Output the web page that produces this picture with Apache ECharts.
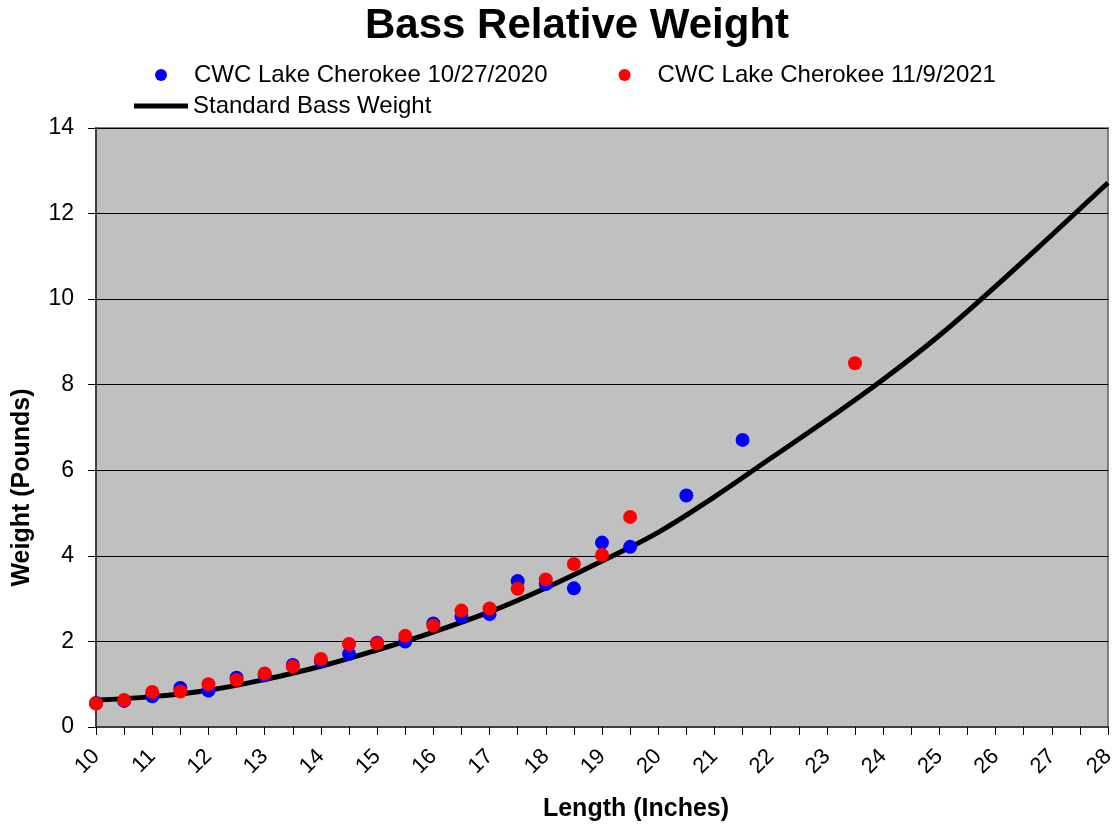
<!DOCTYPE html>
<html>
<head>
<meta charset="utf-8">
<script src="https://cdn.jsdelivr.net/npm/echarts@6/dist/echarts.min.js"></script>
<style>
html,body{margin:0;padding:0;background:#fff;}
#c{width:1116px;height:824px;}
</style>
</head>
<body>
<div id="c"></div>
<script>
// Lengths (inches) for the two survey samples
var lengths2020 = [10, 10.5, 11, 11.5, 12, 12.5, 13, 13.5, 14, 14.5, 15, 15.5, 16, 16.5, 17, 17.5, 18, 18.5, 19, 19.5, 20.5, 21.5];
var weights2020 = [0.56, 0.61, 0.72, 0.91, 0.85, 1.15, 1.21, 1.45, 1.54, 1.71, 1.97, 2.0, 2.42, 2.58, 2.64, 3.41, 3.34, 3.24, 4.31, 4.21, 5.41, 6.71];
var lengths2021 = [10, 10.5, 11, 11.5, 12, 12.5, 13, 13.5, 14, 14.5, 15, 15.5, 16, 16.5, 17, 17.5, 18, 18.5, 19, 19.5, 23.5];
var weights2021 = [0.55, 0.63, 0.82, 0.83, 1.0, 1.1, 1.25, 1.41, 1.59, 1.94, 1.95, 2.13, 2.37, 2.72, 2.77, 3.23, 3.45, 3.81, 4.02, 4.91, 8.50];
// Standard weight curve
var stdLengths = [10, 11, 12, 13, 14, 15, 16, 17, 18, 19, 20, 21, 22, 23, 24, 25, 26, 27, 28];
var stdWeights = [0.63, 0.71, 0.86, 1.11, 1.42, 1.80, 2.22, 2.69, 3.25, 3.88, 4.55, 5.38, 6.28, 7.18, 8.12, 9.15, 10.3, 11.5, 12.72];

var names = ['CWC Lake Cherokee 10/27/2020', 'CWC Lake Cherokee 11/9/2021', 'Standard Bass Weight'];

function zip(a, b) { return a.map(function (v, i) { return [v, b[i]]; }); }

var FONT = '"Liberation Sans", Arial, sans-serif';
var chart = echarts.init(document.getElementById('c'));
chart.setOption({
  animation: false,
  backgroundColor: '#ffffff',
  textStyle: { fontFamily: FONT },
  title: {
    text: 'Bass Relative Weight',
    left: 572,
    textAlign: 'center',
    top: 0,
    textStyle: { fontFamily: FONT, fontSize: 42, fontWeight: 'bold', color: '#000' }
  },
  legend: [
    {
      data: [names[0], names[1]],
      left: 155, top: 63,
      padding: 0,
      icon: 'circle',
      itemWidth: 12, itemHeight: 12,
      itemGap: 71,
      textStyle: { fontFamily: FONT, fontSize: 24, color: '#000', padding: [0, 0, 0, 22] }
    },
    {
      data: [{ name: names[2], icon: 'rect' }],
      left: 134, top: 94,
      padding: 0,
      itemWidth: 54, itemHeight: 5,
      textStyle: { fontFamily: FONT, fontSize: 24, color: '#000' }
    }
  ],
  grid: {
    left: 96, right: 8, top: 128, bottom: 97,
    outerBoundsMode: 'none',
    containLabel: false,
    show: true,
    backgroundColor: '#C0C0C0',
    borderColor: '#808080',
    borderWidth: 2
  },
  xAxis: {
    type: 'value',
    min: 10, max: 28, interval: 0.5,
    name: 'Length (Inches)',
    nameLocation: 'middle',
    nameGap: 70,
    nameTextStyle: { fontFamily: FONT, fontSize: 25, fontWeight: 'bold', color: '#000', padding: [0, 0, 0, 68] },
    axisLine: { show: true, onZero: false, lineStyle: { color: '#404040', width: 2 } },
    axisTick: { show: true, length: 8, lineStyle: { color: '#000', width: 1 } },
    splitLine: { show: false },
    axisLabel: {
      rotate: 45, margin: 26, color: '#000', fontFamily: FONT, fontSize: 22,
      formatter: function (v) { return (Math.abs(v - Math.round(v)) < 1e-6) ? String(Math.round(v)) : ''; }
    }
  },
  yAxis: {
    type: 'value',
    min: 0, max: 14, interval: 2,
    name: 'Weight (Pounds)',
    nameLocation: 'middle',
    nameGap: 61,
    nameTextStyle: { fontFamily: FONT, fontSize: 25, fontWeight: 'bold', color: '#000', padding: [0, 120, 0, 0] },
    axisLine: { show: true, lineStyle: { color: '#404040', width: 2 } },
    axisTick: { show: true, length: 8, lineStyle: { color: '#000', width: 1 } },
    splitLine: { show: true, lineStyle: { color: '#000', width: 1 } },
    axisLabel: { margin: 22, color: '#000', fontFamily: FONT, fontSize: 23 }
  },
  series: [
    {
      name: names[0],
      type: 'scatter',
      data: zip(lengths2020, weights2020),
      symbol: 'circle',
      symbolSize: 14,
      itemStyle: { color: '#0000FF', opacity: 1 },
      z: 3
    },
    {
      name: names[1],
      type: 'scatter',
      data: zip(lengths2021, weights2021),
      symbol: 'circle',
      symbolSize: 14,
      itemStyle: { color: '#FF0000', opacity: 1 },
      z: 4
    },
    {
      name: names[2],
      type: 'line',
      data: zip(stdLengths, stdWeights),
      smooth: 0.4,
      showSymbol: false,
      symbol: 'none',
      lineStyle: { color: '#000', width: 5 },
      itemStyle: { color: '#000' },
      z: 2
    }
  ]
});
</script>
</body>
</html>
